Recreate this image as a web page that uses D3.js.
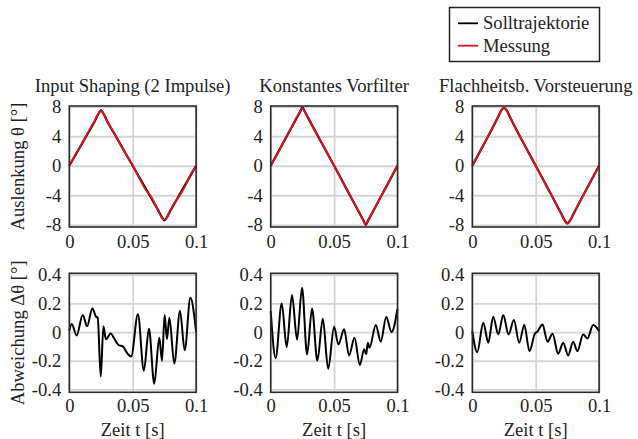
<!DOCTYPE html>
<html>
<head>
<meta charset="utf-8">
<script src="https://cdn.jsdelivr.net/npm/d3@7"></script>
<style>
    body { margin: 0; background: #fff; }
    svg text { font-family: "Liberation Serif", serif; fill: #222; }
</style>
</head>
<body>
<div id="chart"></div>
<script>
/* Zeitachse der oberen Reihe [s] */
const tTop = [0, 0.005, 0.01, 0.015, 0.02, 0.023, 0.025, 0.027, 0.03, 0.035, 0.04, 0.045, 0.05,
    0.055, 0.06, 0.065, 0.07, 0.073, 0.075, 0.077, 0.08, 0.085, 0.09, 0.095, 0.1];

/* Auslenkung [°]: Input Shaping */
const sollIS = [0, 1.5, 3.0, 4.5, 6.0, 7.05, 7.5, 7.05, 6.0, 4.5, 3.0, 1.5, 0,
    -1.5, -3.0, -4.5, -6.0, -6.95, -7.4, -6.95, -6.0, -4.5, -3.0, -1.5, 0];
const messIS = [0.05, 1.55, 3.0, 4.6, 6.1, 7.1, 7.55, 7.05, 6.0, 4.55, 3.0, 1.45, 0.05,
    -1.6, -3.2, -4.3, -6.1, -7.05, -7.3, -7.05, -5.9, -4.55, -3.2, -1.4, 0];

/* Auslenkung [°]: Konstantes Vorfilter */
const sollKV = [0, 1.58, 3.16, 4.74, 6.32, 7.27, 7.9, 7.3, 6.32, 4.74, 3.16, 1.58, 0,
    -1.6, -3.2, -4.8, -6.4, -7.36, -8.0, -7.36, -6.4, -4.8, -3.2, -1.6, 0];
const messKV = [0.1, 1.5, 3.2, 4.7, 6.4, 7.3, 7.8, 7.25, 6.4, 4.7, 3.2, 1.55, 0.02,
    -1.6, -3.25, -4.75, -6.45, -7.4, -7.95, -7.4, -6.4, -4.85, -3.2, -1.55, 0.1];

/* Auslenkung [°]: Flachheitsb. Vorsteuerung */
const sollFV = [0, 1.6, 3.2, 4.8, 6.5, 7.55, 7.85, 7.55, 6.5, 4.8, 3.2, 1.6, 0,
    -1.6, -3.2, -4.8, -6.45, -7.45, -7.8, -7.45, -6.45, -4.8, -3.2, -1.6, 0];
const messFV = [0.02, 1.62, 3.2, 4.82, 6.5, 7.57, 7.88, 7.55, 6.52, 4.8, 3.18, 1.62, 0,
    -1.6, -3.22, -4.8, -6.5, -7.5, -7.85, -7.45, -6.45, -4.82, -3.2, -1.58, 0];

/* Abweichung [°]: Input Shaping */
const tDevIS = [0, 0.0019, 0.0058, 0.0106, 0.014, 0.0182, 0.0211, 0.0224, 0.0248, 0.0269, 0.0288,
    0.0327, 0.0354, 0.0388, 0.0422, 0.0459, 0.0488, 0.0541, 0.0588, 0.0628, 0.067, 0.071, 0.0731,
    0.0752, 0.077, 0.0789, 0.0828, 0.0873, 0.091, 0.0955, 0.1];
const devIS = [0.01, 0.056, -0.023, 0.12, 0.04, 0.165, 0.107, 0.10, -0.31, 0.04, -0.05,
    -0.01, -0.045, -0.09, -0.10, -0.15, -0.17, 0.125, -0.27, 0.023, -0.36, -0.04, -0.2,
    0.12, -0.05, 0.10, -0.22, 0.147, -0.126, 0.24, 0];

/* Abweichung [°]: Konstantes Vorfilter */
const tDevKV = [0, 0.0039, 0.0087, 0.0126, 0.0168, 0.0208, 0.0247, 0.0287, 0.0326, 0.0368, 0.0411,
    0.0453, 0.05, 0.0534, 0.0579, 0.0618, 0.0661, 0.0703, 0.0737, 0.0753, 0.0766, 0.0779, 0.0829,
    0.0868, 0.0911, 0.0953, 0.1];
const devKV = [0.146, -0.18, 0.2, -0.105, 0.258, -0.053, 0.31, -0.156, 0.165, -0.2, 0.093,
    -0.256, 0.037, -0.086, 0.019, -0.163, -0.04, -0.23, -0.12, -0.155, -0.074, -0.11, 0.05,
    -0.067, 0.105, 0, 0.163];

/* Abweichung [°]: Flachheitsb. Vorsteuerung */
const tDevFV = [0, 0.0039, 0.0087, 0.0126, 0.0165, 0.0205, 0.0244, 0.0286, 0.0328, 0.037, 0.041,
    0.0451, 0.0493, 0.0512, 0.0554, 0.0593, 0.0633, 0.0677, 0.0717, 0.0756, 0.0795, 0.0829,
    0.0874, 0.0908, 0.0953, 0.1];
const devFV = [0.007, -0.14, 0.065, -0.074, 0.107, -0.016, 0.119, -0.016, 0.084, -0.074, 0.049,
    -0.133, -0.012, 0.002, 0.053, -0.067, -0.012, -0.151, -0.074, -0.163, -0.067, -0.133,
    -0.016, -0.044, 0.049, 0.007];

const titles = ['Input Shaping (2 Impulse)', 'Konstantes Vorfilter', 'Flachheitsb. Vorsteuerung'];
const legendLabels = ['Solltrajektorie', 'Messung'];
const xTicks = [0, 0.05, 0.1];
const yTicksTop = [-8, -4, 0, 4, 8];
const yTicksBottom = [-0.4, -0.2, 0, 0.2, 0.4];

const topSeries = [[sollIS, messIS], [sollKV, messKV], [sollFV, messFV]];
const bottomSeries = [[tDevIS, devIS], [tDevKV, devKV], [tDevFV, devFV]];

const width = 638, height = 439;
const fontSize = 18.6;
const panelLeft = [69.3, 270.7, 472.3];
const panelWidth = 126.8;
const topRow = { y0: 106, y1: 227, domain: [-8.3, 8.1], xPad: 8 };
const bottomRow = { y0: 273.3, y1: 392.3, domain: [-0.42, 0.41], xPad: 6 };

/* plain hyphen as minus sign, like the original figure */
const fmtTop = d => String(d);
const fmtBottom = d => d === 0 ? '0' : d.toFixed(1);

const svg = d3.select('#chart')
    .append('svg')
    .attr('width', width)
    .attr('height', height);

function drawPanel(i, row, yTicks, yFormat, lines, showXLabel) {
    const xScale = d3.scaleLinear()
        .domain([0, 0.1])
        .range([panelLeft[i], panelLeft[i] + panelWidth]);
    const yScale = d3.scaleLinear()
        .domain(row.domain)
        .range([row.y1, row.y0]);

    /* gridlines */
    svg.append('g')
        .attr('transform', `translate(0,${row.y1})`)
        .call(d3.axisBottom(xScale).tickValues(xTicks).tickSize(-(row.y1 - row.y0)).tickFormat(''))
        .call(g => g.select('.domain').remove())
        .selectAll('line')
        .attr('stroke', '#d4d4d4')
        .attr('stroke-width', 1.8);

    svg.append('g')
        .attr('transform', `translate(${panelLeft[i]},0)`)
        .call(d3.axisLeft(yScale).tickValues(yTicks).tickSize(-panelWidth).tickFormat(''))
        .call(g => g.select('.domain').remove())
        .selectAll('line')
        .attr('stroke', '#d4d4d4')
        .attr('stroke-width', 1.8);

    /* lines */
    lines.forEach(l => {
        const line = d3.line()
            .x((d, k) => xScale(l.t[k]))
            .y(d => yScale(d))
            .curve(d3.curveMonotoneX);
        svg.append('path')
            .datum(l.v)
            .attr('fill', 'none')
            .attr('stroke', l.color)
            .attr('stroke-width', l.w)
            .attr('stroke-linejoin', 'round')
            .attr('d', line);
    });

    /* frame */
    svg.append('rect')
        .attr('x', panelLeft[i])
        .attr('y', row.y0)
        .attr('width', panelWidth)
        .attr('height', row.y1 - row.y0)
        .attr('fill', 'none')
        .attr('stroke', '#2a2a2a')
        .attr('stroke-width', 1.6);

    /* tick labels */
    svg.append('g')
        .attr('transform', `translate(${panelLeft[i]},0)`)
        .call(d3.axisLeft(yScale).tickValues(yTicks).tickSize(0).tickPadding(8).tickFormat(yFormat))
        .call(g => g.select('.domain').remove())
        .selectAll('text')
        .style('font-size', fontSize + 'px')
        .style('font-family', '"Liberation Serif", serif')
        .attr('fill', '#222');

    svg.append('g')
        .attr('transform', `translate(0,${row.y1})`)
        .call(d3.axisBottom(xScale).tickValues(xTicks).tickSize(0).tickPadding(row.xPad).tickFormat(d => String(d)))
        .call(g => g.select('.domain').remove())
        .selectAll('text')
        .style('font-size', fontSize + 'px')
        .style('font-family', '"Liberation Serif", serif')
        .attr('fill', '#222');

    if (showXLabel) {
        svg.append('text')
            .text('Zeit t [s]')
            .attr('x', panelLeft[i] + panelWidth / 2)
            .attr('y', 435.5)
            .attr('text-anchor', 'middle')
            .style('font-size', fontSize + 'px');
    }
}

for (let i = 0; i < 3; i++) {
    /* Title */
    svg.append('text')
        .text(titles[i])
        .attr('x', panelLeft[i] + panelWidth / 2)
        .attr('y', 92)
        .attr('text-anchor', 'middle')
        .style('font-size', fontSize + 'px');

    drawPanel(i, topRow, yTicksTop, fmtTop, [
        { t: tTop, v: topSeries[i][0], color: '#000', w: 2.2 },
        { t: tTop, v: topSeries[i][1], color: '#e8111a', w: 1.8 }
    ], false);

    drawPanel(i, bottomRow, yTicksBottom, fmtBottom, [
        { t: bottomSeries[i][0], v: bottomSeries[i][1], color: '#000', w: 2 }
    ], true);
}

/* y Labels */
svg.append('text')
    .text('Auslenkung θ [°]')
    .attr('transform', `translate(24,${(topRow.y0 + topRow.y1) / 2}) rotate(-90)`)
    .attr('text-anchor', 'middle')
    .style('font-size', fontSize + 'px');

svg.append('text')
    .text('Abweichung Δθ [°]')
    .attr('transform', `translate(24,${(bottomRow.y0 + bottomRow.y1) / 2}) rotate(-90)`)
    .attr('text-anchor', 'middle')
    .style('font-size', fontSize + 'px');

/* Legend */
svg.append('rect')
    .attr('x', 449.5)
    .attr('y', 7.5)
    .attr('width', 150)
    .attr('height', 54)
    .attr('fill', '#fff')
    .attr('stroke', '#222')
    .attr('stroke-width', 1.5);

[['#000', 23.3], ['#e8111a', 45.7]].forEach((d, k) => {
    svg.append('line')
        .attr('x1', 458)
        .attr('x2', 478)
        .attr('y1', d[1])
        .attr('y2', d[1])
        .attr('stroke', d[0])
        .attr('stroke-width', 1.8);
    svg.append('text')
        .text(legendLabels[k])
        .attr('x', 483)
        .attr('y', d[1] + 6)
        .style('font-size', fontSize + 'px');
});
</script>
</body>
</html>
